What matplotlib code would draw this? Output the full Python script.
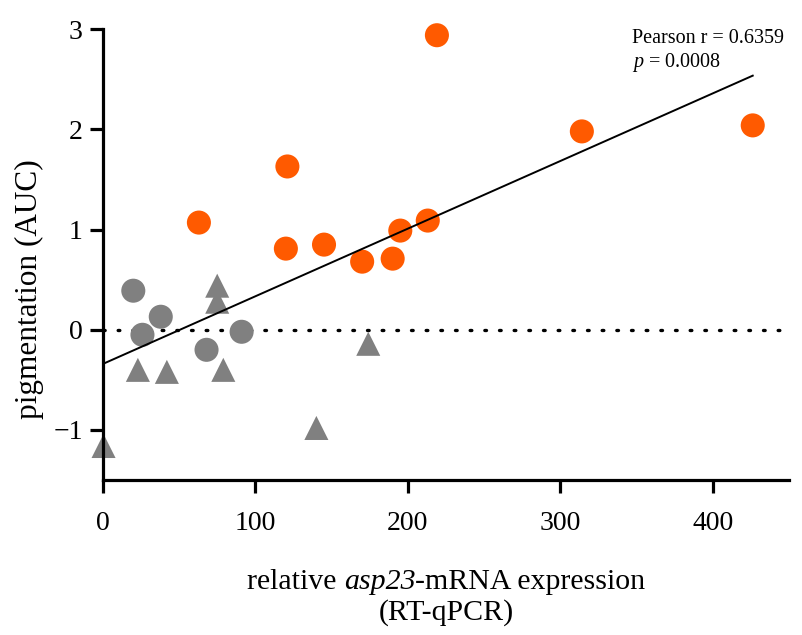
import numpy as np
import matplotlib
matplotlib.use("Agg")
import matplotlib.pyplot as plt
from matplotlib.offsetbox import TextArea, HPacker, VPacker, AnchoredOffsetbox

plt.rcParams['font.family'] = 'Liberation Serif'
plt.rcParams['mathtext.fontset'] = 'custom'
plt.rcParams['mathtext.rm'] = 'Liberation Serif'
plt.rcParams['mathtext.it'] = 'Liberation Serif:italic'

# high pigmentation group (orange circles)
orange_x = [63, 121, 120, 145, 170, 190, 195, 213, 219, 314, 426]
orange_y = [1.07, 1.63, 0.81, 0.85, 0.68, 0.71, 0.99, 1.09, 2.94, 1.98, 2.04]

# grey circles
grey_x = [20, 38, 26, 68, 91]
grey_y = [0.39, 0.13, -0.05, -0.20, -0.02]

# grey triangles
tri_x = [75, 75, 23, 42, 79, 0.5, 174, 140]
tri_y = [0.44, 0.28, -0.40, -0.42, -0.40, -1.16, -0.14, -0.98]

x_ticks = [0, 100, 200, 300, 400]
y_ticks = [-1, 0, 1, 2, 3]

all_x = np.array(orange_x + grey_x + tri_x)
all_y = np.array(orange_y + grey_y + tri_y)
slope, intercept = np.polyfit(all_x, all_y, 1)

fig = plt.figure(figsize=(8.03, 6.35), dpi=100)
ax = fig.add_axes([0.128, 0.244, 0.855, 0.71])

ax.plot([0, 450], [0, 0], color='black', lw=2.4, linestyle=(0, (0.5, 3.9)),
        dash_capstyle='round', zorder=1)
fit_x = np.array([0, all_x.max()])
ax.plot(fit_x, slope * fit_x + intercept, color='black', lw=1.4, zorder=3)

ax.scatter(grey_x, grey_y, s=300, color='#808080', edgecolors='none', zorder=2, clip_on=False)
ax.scatter(tri_x, tri_y, s=300, marker='^', color='#808080', edgecolors='none', zorder=2, clip_on=False)
ax.scatter(orange_x, orange_y, s=300, color='#ff5a00', edgecolors='none', zorder=2, clip_on=False)

ax.set_xlim(0, 450)
ax.set_ylim(-1.5, 3)
ax.set_xticks(x_ticks)
ax.set_yticks(y_ticks)
ax.set_yticklabels(['\u22121', '0', '1', '2', '3'])
ax.tick_params(labelsize=20, width=2.3, length=9.5, direction='out')
ax.tick_params(axis='x', pad=13)
ax.tick_params(axis='y', pad=5)
ax.spines['top'].set_visible(False)
ax.spines['right'].set_visible(False)
ax.spines['left'].set_linewidth(2.3)
ax.spines['bottom'].set_linewidth(2.3)

ax.set_ylabel('pigmentation (AUC)', fontsize=22.5)
ax.yaxis.set_label_coords(-0.086, 0.4235)

# x label with the gene name in italics
lab = dict(fontsize=21.5)
line1 = HPacker(children=[TextArea('relative ', textprops=lab),
                          TextArea('asp23', textprops=dict(fontsize=21.5, fontstyle='italic')),
                          TextArea('-mRNA expression', textprops=lab)],
                align='baseline', pad=0, sep=0)
line2 = TextArea('(RT-qPCR)', textprops=lab)
xlab = VPacker(children=[line1, line2], align='center', pad=0, sep=3)
ax.add_artist(AnchoredOffsetbox(loc='upper center', child=xlab, pad=0, borderpad=0,
                                frameon=False, bbox_to_anchor=(0.5, -0.198),
                                bbox_transform=ax.transAxes))

ax.text(347, 2.91, 'Pearson r = 0.6359', fontsize=14.5, va='center')
ax.text(347, 2.67, '$\\it{p}$ = 0.0008', fontsize=14.5, va='center')

fig.savefig('out.png', dpi=100)
